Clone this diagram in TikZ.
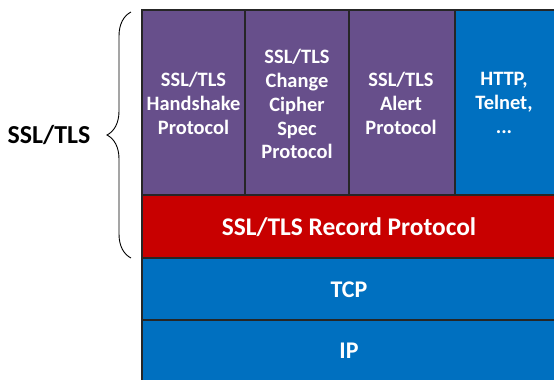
\documentclass[tikz,border=0pt]{standalone}
\usepackage{fontspec}
\setmainfont{Carlito}
\usetikzlibrary{decorations.pathreplacing}
\definecolor{purp}{HTML}{674F8B}
\definecolor{bl}{HTML}{0070C0}
\definecolor{rd}{HTML}{C80000}
\tikzset{
  layer/.style={draw=black!85, line width=1.6bp, inner sep=0pt},
  lbl/.style={text=white, font=\bfseries\fontsize{20.5}{24}\selectfont, align=center},
  biglbl/.style={text=white, font=\bfseries\fontsize{25.5}{28}\selectfont},
  midlbl/.style={text=white, font=\bfseries\fontsize{24}{28}\selectfont},
}
\begin{document}
\begin{tikzpicture}[x=1bp,y=-1bp]
\useasboundingbox (0,0) rectangle (554,379);
\clip (0,0) rectangle (554,379);
% layers
\filldraw[layer, fill=purp] (142,10) rectangle (245,195);
\filldraw[layer, fill=purp] (245,10) rectangle (349,195);
\filldraw[layer, fill=purp] (349,10) rectangle (455,195);
\filldraw[layer, fill=bl] (455,10) rectangle (570,195);
\filldraw[layer, fill=rd] (142,195) rectangle (570,258);
\filldraw[layer, fill=bl] (142,258) rectangle (570,320);
\filldraw[layer, fill=bl] (142,320) rectangle (570,400);
% labels
\node[lbl] (hs) at (193.5,103) {SSL/TLS\\Handshake\\Protocol};
\node[lbl] (ccs) at (297,104) {SSL/TLS\\Change\\Cipher\\Spec\\Protocol};
\node[lbl] (al) at (401,103) {SSL/TLS\\Alert\\Protocol};
\node[lbl] (app) at (504,103) {HTTP,\\Telnet,\\...};
\node[biglbl] (rec) at (349,227) {SSL/TLS Record Protocol};
\node[midlbl] (tcp) at (349,290) {TCP};
\node[midlbl] (ip) at (349,351) {IP};
% brace
\coordinate (bb) at (131,258);
\coordinate (bt) at (131,12);
\draw[line width=0.9bp, decorate, decoration={brace, amplitude=24bp, aspect=0.5}] (bb) -- (bt);
\node[text=black, font=\bfseries\fontsize{26}{28}\selectfont] (ssl) at (49,135) {SSL/TLS};
\end{tikzpicture}
\end{document}
